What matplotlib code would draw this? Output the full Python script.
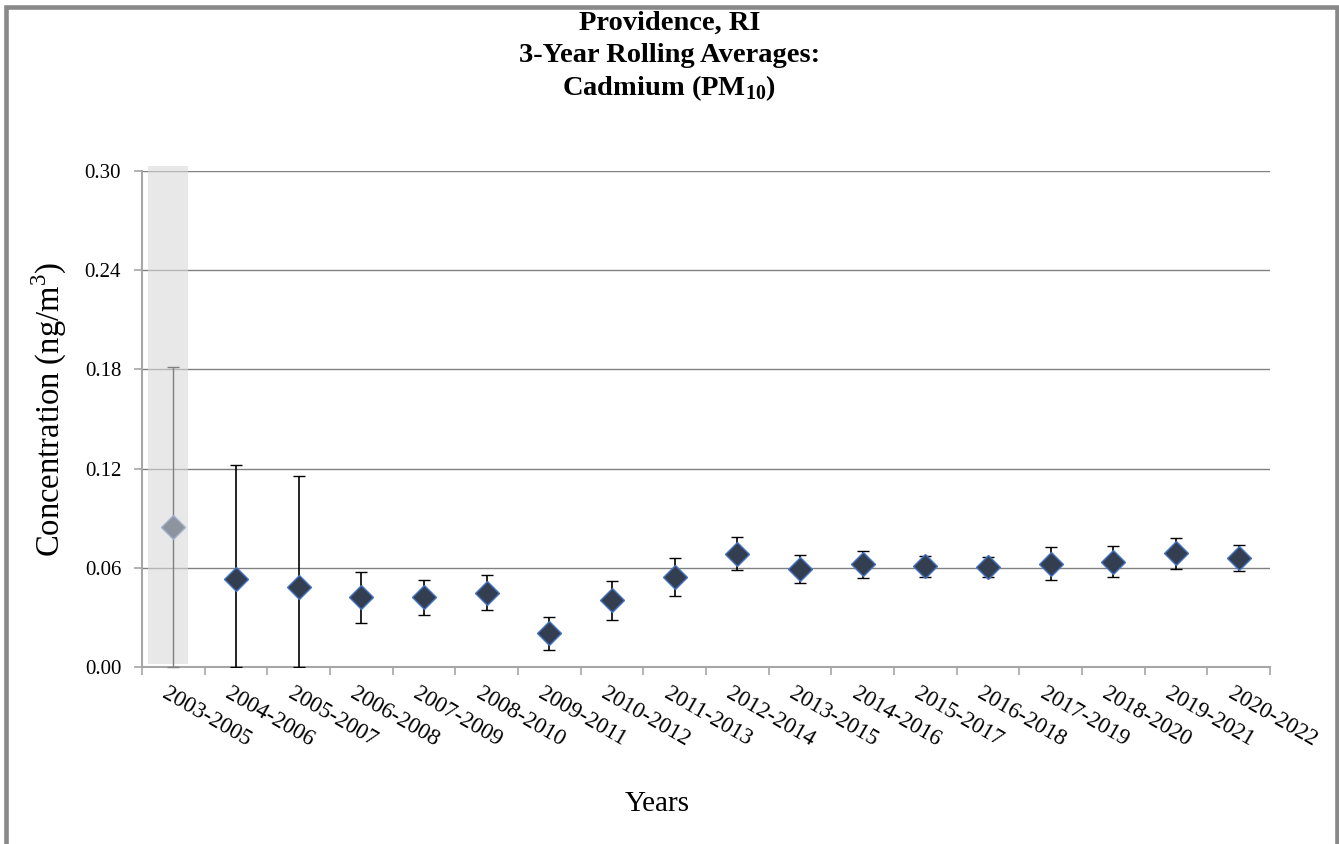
import matplotlib
matplotlib.use("Agg")
import matplotlib.pyplot as plt
import matplotlib.transforms as mtransforms
from matplotlib.patches import Rectangle
import numpy as np

periods = ["2003-2005", "2004-2006", "2005-2007", "2006-2008", "2007-2009", "2008-2010",
           "2009-2011", "2010-2012", "2011-2013", "2012-2014", "2013-2015", "2014-2016",
           "2015-2017", "2016-2018", "2017-2019", "2018-2020", "2019-2021", "2020-2022"]
means = [0.0844, 0.0531, 0.0481, 0.0423, 0.0425, 0.0449, 0.0203, 0.0405, 0.0546,
         0.0686, 0.0594, 0.0622, 0.0610, 0.0607, 0.0626, 0.0638, 0.0688, 0.0660]
upper = [0.1815, 0.1219, 0.1156, 0.0573, 0.0529, 0.0558, 0.0300, 0.0522, 0.0658,
         0.0789, 0.0676, 0.0704, 0.0672, 0.0668, 0.0723, 0.0729, 0.0783, 0.0739]
lower = [0.0, 0.0, 0.0, 0.0269, 0.0316, 0.0344, 0.0103, 0.0286, 0.0427,
         0.0588, 0.0511, 0.0537, 0.0543, 0.0542, 0.0529, 0.0547, 0.0594, 0.0582]
# first period is shaded (incomplete data)
shaded_height = 0.301

plt.rcParams["font.family"] = ["Liberation Serif", "DejaVu Serif"]
plt.rcParams["mathtext.fontset"] = "custom"
plt.rcParams["mathtext.rm"] = "Liberation Serif"
plt.rcParams["mathtext.bf"] = "Liberation Serif:bold"

W, H = 1339, 844
fig = plt.figure(figsize=(W / 100, H / 100), dpi=100)
ax = fig.add_axes([142 / W, 1 - 667 / H, 1128 / W, 496 / H])

x = np.arange(len(periods))
means = np.array(means)
upper = np.array(upper)
lower = np.array(lower)
yerr = np.vstack([means - lower, upper - means])

ax.bar(x[0] - 0.09, shaded_height, width=0.64, bottom=0.002, color="#d9d9d9",
       alpha=0.6, zorder=1.5, clip_on=False)

ax.errorbar(x[0], means[0], yerr=yerr[:, :1], fmt="D", ms=12, color="#8d949e",
            mfc="#8d949e", mec="#a3b1cc", mew=1, ecolor="#7f7f7f", elinewidth=1,
            capsize=4.5, capthick=1, zorder=3, clip_on=False)
ax.errorbar(x[1:], means[1:], yerr=yerr[:, 1:], fmt="D", ms=12, mfc="#333f50",
            mec="#4472c4", mew=1, ecolor="black", elinewidth=1.2,
            capsize=4.5, capthick=1.2, zorder=3)

ax.set_xlim(-0.5, len(periods) - 0.5)
ax.set_ylim(0, 0.30)
ax.set_yticks(np.arange(0, 0.301, 0.06))
ax.set_yticklabels([f"{v:.2f}" for v in np.arange(0, 0.301, 0.06)], fontsize=15)
ax.set_xticks(x)
ax.set_xticklabels(periods, fontsize=16.5, rotation=-30, ha="left", va="top",
                   rotation_mode="anchor")
ax.set_xticks(np.arange(-0.5, len(periods), 1), minor=True)
ax.tick_params(axis="x", which="major", length=0, pad=11.5)
ax.tick_params(axis="x", which="minor", length=6, color="#a6a6a6", width=1.2)
ax.tick_params(axis="y", length=6, color="#a6a6a6", width=1.2, pad=9)

offset = mtransforms.ScaledTranslation(-4 / 100, 0, fig.dpi_scale_trans)
for lab in ax.get_xticklabels():
    lab.set_transform(lab.get_transform() + offset)

ax.grid(axis="y", color="#808080", linewidth=1)
ax.set_axisbelow(True)
for side in ["top", "right"]:
    ax.spines[side].set_visible(False)
for side in ["left", "bottom"]:
    ax.spines[side].set_color("#a6a6a6")
    ax.spines[side].set_linewidth(1.5)

ax.set_ylabel(r"Concentration (ng/m$^{\mathrm{3}}$)", fontsize=23.5)
ax.yaxis.set_label_coords(-0.0647, 0.52)
ax.set_xlabel("Years", fontsize=21)
ax.xaxis.set_label_coords(0.4566, -0.25)

title_lines = ["Providence, RI", "3-Year Rolling Averages:", r"Cadmium (PM$_{\mathbf{10}}$)"]
for line, base in zip(title_lines, [30.0, 62.5, 95.0]):
    fig.text(0.5, 1 - base / H, line, ha="center", va="baseline",
             fontsize=20.5, fontweight="bold")

fig.patches.append(Rectangle((6.5 / W, -0.05), (1337 - 6.5) / W, 1.05 - 7 / H,
                             transform=fig.transFigure, fill=False,
                             edgecolor="#898989", linewidth=3.3))

fig.savefig("out.png", dpi=100)
